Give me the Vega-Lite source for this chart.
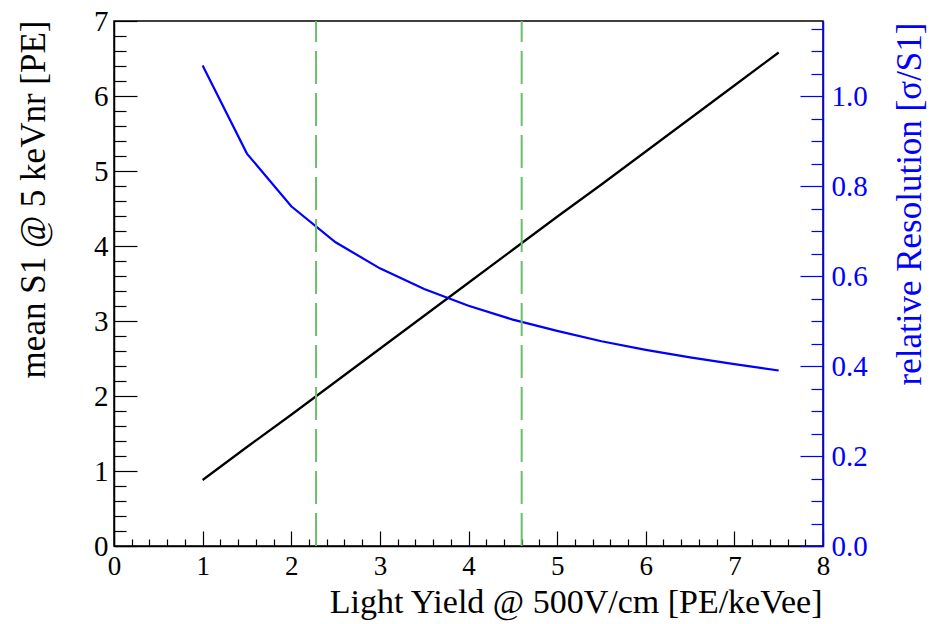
{
  "$schema": "https://vega.github.io/schema/vega-lite/v6.json",
  "width": 709,
  "height": 525,
  "autosize": {"type": "none"},
  "padding": {"left": 114, "top": 21, "right": 107, "bottom": 78},
  "background": "white",
  "config": {
    "view": {"stroke": "#000", "strokeWidth": 1.5},
    "font": "Liberation Serif",
    "axis": {
      "grid": false,
      "labelFont": "Liberation Serif",
      "titleFont": "Liberation Serif",
      "titleFontWeight": "normal",
      "labelFlush": false,
      "labelOverlap": false,
      "tickWidth": 1.2,
      "domainWidth": 1.5
    }
  },
  "datasets": {
    "curves": [
      {"ly": 1.0, "s1": 0.88, "res": 1.068},
      {"ly": 1.5, "s1": 1.32, "res": 0.872},
      {"ly": 2.0, "s1": 1.75, "res": 0.755},
      {"ly": 2.5, "s1": 2.19, "res": 0.675},
      {"ly": 3.0, "s1": 2.63, "res": 0.617},
      {"ly": 3.5, "s1": 3.07, "res": 0.571},
      {"ly": 4.0, "s1": 3.51, "res": 0.534},
      {"ly": 4.5, "s1": 3.95, "res": 0.503},
      {"ly": 5.0, "s1": 4.39, "res": 0.478},
      {"ly": 5.5, "s1": 4.82, "res": 0.455},
      {"ly": 6.0, "s1": 5.26, "res": 0.436},
      {"ly": 6.5, "s1": 5.70, "res": 0.419},
      {"ly": 7.0, "s1": 6.14, "res": 0.404},
      {"ly": 7.5, "s1": 6.58, "res": 0.390}
    ],
    "cuts": [
      {"ly": 2.28},
      {"ly": 4.6}
    ]
  },
  "layer": [
    {
      "data": {"name": "curves"},
      "mark": {"type": "line", "color": "#000000", "strokeWidth": 2.2},
      "encoding": {
        "x": {
          "field": "ly",
          "type": "quantitative",
          "scale": {"domain": [0, 8], "nice": false, "zero": false},
          "axis": {
            "orient": "bottom",
            "values": [0, 1, 2, 3, 4, 5, 6, 7, 8],
            "format": "d",
            "tickSize": -15,
            "tickColor": "#000",
            "domainColor": "#000",
            "labelColor": "#000",
            "labelFontSize": 27,
            "labelPadding": 22,
            "title": "Light Yield @ 500V/cm [PE/keVee]",
            "titleColor": "#000",
            "titleFontSize": 34,
            "titleAlign": "right",
            "titleBaseline": "alphabetic",
            "titleX": 708,
            "titleY": 66
          }
        },
        "y": {
          "field": "s1",
          "type": "quantitative",
          "scale": {"domain": [0, 7], "nice": false},
          "axis": {
            "orient": "left",
            "values": [0, 1, 2, 3, 4, 5, 6, 7],
            "format": "d",
            "tickSize": -23,
            "tickColor": "#000",
            "domainColor": "#000",
            "labelColor": "#000",
            "labelFontSize": 29,
            "labelPadding": 29,
            "title": "mean S1 @ 5 keVnr [PE]",
            "titleColor": "#000",
            "titleFontSize": 35,
            "titleAngle": -90,
            "titleAlign": "right",
            "titleBaseline": "alphabetic",
            "titleX": -70,
            "titleY": -1
          }
        }
      }
    },
    {
      "data": {"name": "curves"},
      "mark": {"type": "line", "color": "#0000ff", "strokeWidth": 2.2},
      "encoding": {
        "x": {"field": "ly", "type": "quantitative", "axis": null},
        "y": {
          "field": "res",
          "type": "quantitative",
          "scale": {"domain": [0, 1.1667], "nice": false},
          "axis": {
            "orient": "right",
            "values": [0, 0.2, 0.4, 0.6, 0.8, 1.0],
            "format": ".1f",
            "tickSize": -23,
            "tickColor": "#0000ff",
            "domainColor": "#0000ff",
            "labelColor": "#0000ff",
            "labelFontSize": 29,
            "labelPadding": 31,
            "title": "relative Resolution [σ/S1]",
            "titleColor": "#0000ff",
            "titleFontSize": 35,
            "titleAngle": -90,
            "titleAlign": "right",
            "titleBaseline": "alphabetic",
            "titleX": 97,
            "titleY": 1
          }
        }
      }
    },
    {
      "data": {"name": "curves"},
      "mark": {"type": "line", "opacity": 0},
      "encoding": {
        "x": {"field": "ly", "type": "quantitative", "axis": null},
        "y": {
          "field": "res",
          "type": "quantitative",
          "scale": {"domain": [0, 1.1667], "nice": false},
          "axis": {
            "orient": "right",
            "values": [0.05, 0.1, 0.15, 0.25, 0.3, 0.35, 0.45, 0.5, 0.55, 0.65, 0.7, 0.75, 0.85, 0.9, 0.95, 1.05, 1.1, 1.15],
            "domain": false,
            "labels": false,
            "title": null,
            "tickSize": -12,
            "tickColor": "#0000ff"
          }
        }
      }
    },
    {
      "data": {"name": "cuts"},
      "mark": {"type": "rule", "color": "#6abf6a", "strokeWidth": 2, "strokeDash": [33, 9]},
      "encoding": {
        "x": {
          "field": "ly",
          "type": "quantitative",
          "axis": {
            "orient": "bottom",
            "values": [0.2, 0.4, 0.6, 0.8, 1.2, 1.4, 1.6, 1.8, 2.2, 2.4, 2.6, 2.8, 3.2, 3.4, 3.6, 3.8, 4.2, 4.4, 4.6, 4.8, 5.2, 5.4, 5.6, 5.8, 6.2, 6.4, 6.6, 6.8, 7.2, 7.4, 7.6, 7.8],
            "domain": false,
            "labels": false,
            "title": null,
            "tickSize": -7,
            "tickColor": "#000"
          }
        },
        "y": {
          "datum": 0,
          "type": "quantitative",
          "scale": {"domain": [0, 7], "nice": false},
          "axis": {
            "orient": "left",
            "values": [0.2, 0.4, 0.6, 0.8, 1.2, 1.4, 1.6, 1.8, 2.2, 2.4, 2.6, 2.8, 3.2, 3.4, 3.6, 3.8, 4.2, 4.4, 4.6, 4.8, 5.2, 5.4, 5.6, 5.8, 6.2, 6.4, 6.6, 6.8],
            "domain": false,
            "labels": false,
            "title": null,
            "tickSize": -12,
            "tickColor": "#000"
          }
        },
        "y2": {"datum": 7}
      }
    }
  ],
  "resolve": {
    "scale": {"y": "independent"},
    "axis": {"x": "independent", "y": "independent"}
  }
}
